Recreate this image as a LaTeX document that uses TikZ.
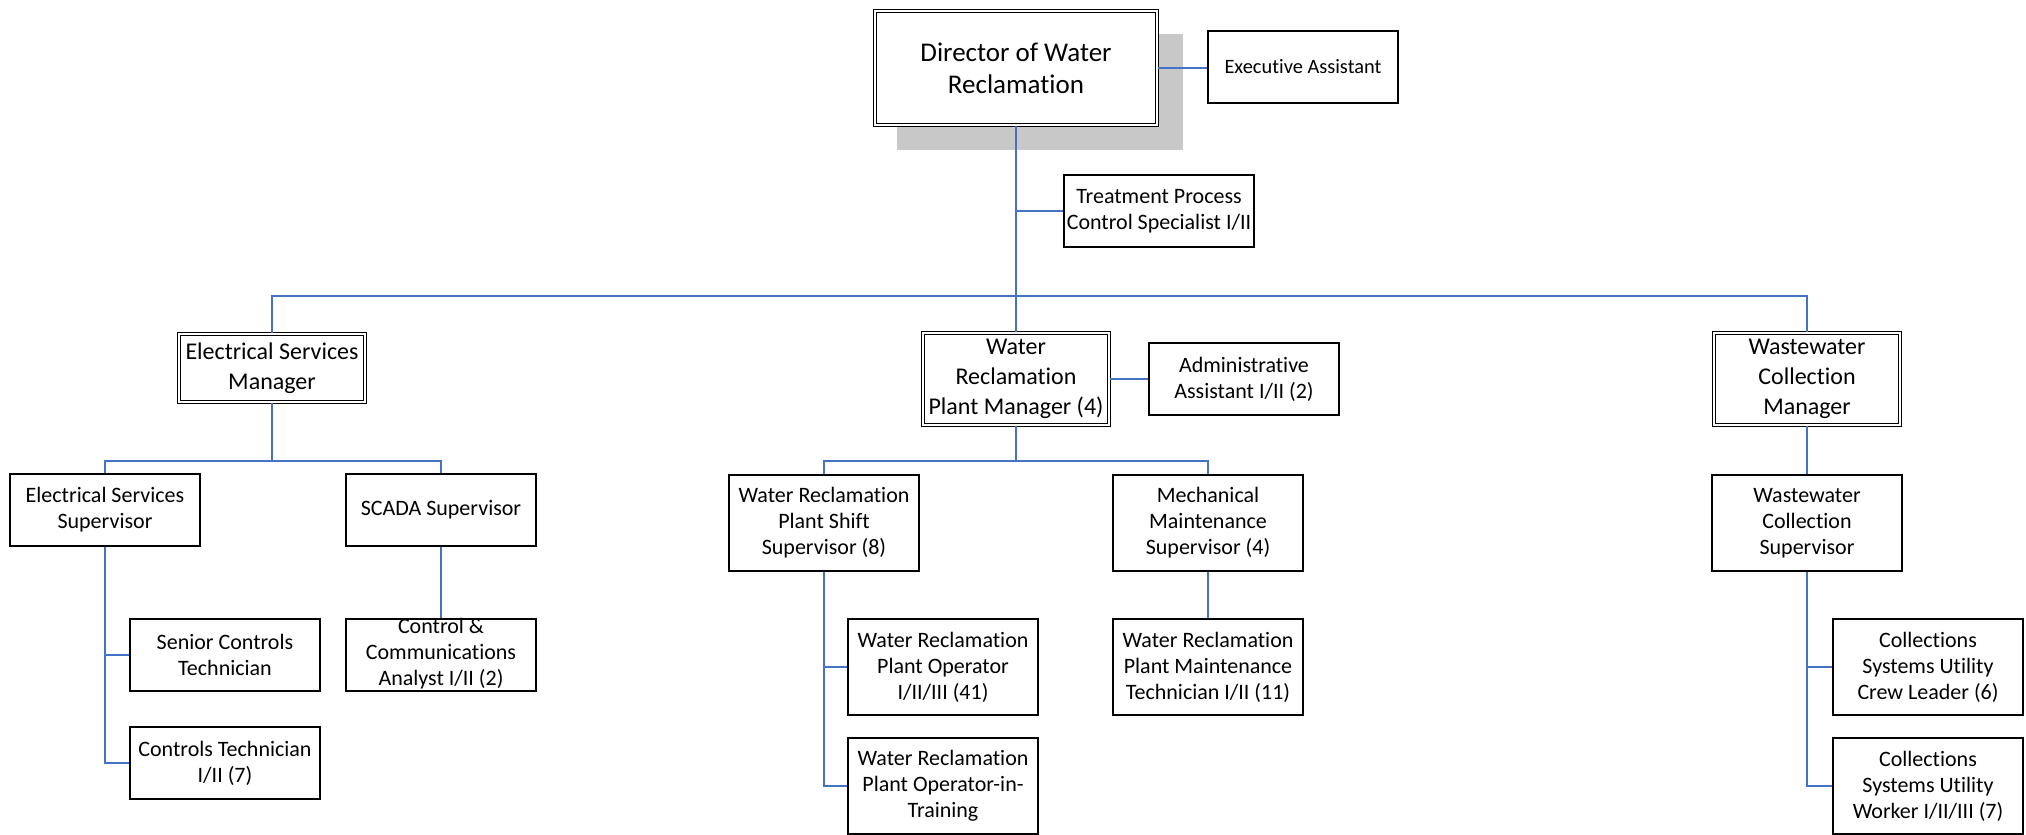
\documentclass[tikz,border=0pt]{standalone}
\usepackage{fontspec}
\setmainfont{Carlito}[Ligatures=NoCommon]
\usetikzlibrary{shadows}
\usetikzlibrary{calc}
\definecolor{linkblue}{RGB}{68,114,196}
\definecolor{shadowgray}{RGB}{200,200,200}
\tikzstyle{position}=[rectangle,draw,fill=white,line width=0.7pt,align=center,minimum width=95pt,minimum height=36pt,inner sep=1pt,font=\fontsize{11}{13}\selectfont]
\tikzstyle{tallposition}=[position,minimum height=48pt]
\tikzstyle{manager}=[position,double,double distance=1.2pt,line width=0.6pt,minimum width=93pt,minimum height=34pt,font=\fontsize{12}{15}\selectfont]
\tikzstyle{tallmanager}=[manager,minimum height=46pt]
\tikzstyle{director}=[manager,minimum width=141pt,minimum height=57pt,font=\fontsize{13.5}{16}\selectfont,
    drop shadow={shadow xshift=12pt,shadow yshift=-11.75pt,shadow scale=1.015,fill=shadowgray,opacity=1}]
\tikzstyle{edge} = [draw,line width=0.8pt,linkblue]

\begin{document}
\begin{tikzpicture}[x=0.5pt,y=-0.5pt]
    \useasboundingbox (0,0) rectangle (2026,835);

    \node[director] (dir) at (1016,68) {Director of Water\\Reclamation};

    \foreach \pos/\name/\txt in {{(272,368)/esm/{Electrical Services\\Manager}}}
        \node[manager] (\name) at \pos {\txt};
    \foreach \pos/\name/\txt in {{(1016,379)/wrp/{Water\\Reclamation\\Plant Manager (4)}},
        {(1807,379)/wcm/{Wastewater\\Collection\\Manager}}}
        \node[tallmanager] (\name) at \pos {\txt};

    \node[position,font=\fontsize{10.2}{13}\selectfont] (exa) at (1303,67) {Executive Assistant};
    \foreach \pos/\name/\txt in {{(1159,211)/tpc/{Treatment Process\\Control Specialist I/II}},
        {(1244,379)/adm/{Administrative\\Assistant I/II (2)}},
        {(105,510)/ess/{Electrical Services\\Supervisor}},
        {(441,510)/scs/{SCADA Supervisor}},
        {(225,655)/sct/{Senior Controls\\Technician}},
        {(225,763)/ctt/{Controls Technician\\I/II (7)}}}
        \node[position] (\name) at \pos {\txt};
    \node[position] (cca) at (441,655) {\raisebox{-4.5pt}{\smash{\begin{tabular}{@{}c@{}}Control \&\\Communications\\Analyst I/II (2)\end{tabular}}}};

    \foreach \pos/\name/\txt in {{(824,523)/shs/{Water Reclamation\\Plant Shift\\Supervisor (8)}},
        {(1208,523)/mms/{Mechanical\\Maintenance\\Supervisor (4)}},
        {(943,667)/wro/{Water Reclamation\\Plant Operator\\I/II/III (41)}},
        {(943,786)/wrt/{Water Reclamation\\Plant Operator-in-\\Training}},
        {(1208,667)/wmt/{Water Reclamation\\Plant Maintenance\\Technician I/II (11)}},
        {(1807,523)/wcs/{Wastewater\\Collection\\Supervisor}},
        {(1928,667)/cul/{Collections\\Systems Utility\\Crew Leader (6)}},
        {(1928,786)/cuw/{Collections\\Systems Utility\\Worker I/II/III (7)}}}
        \node[tallposition] (\name) at \pos {\txt};

    % bus junctions
    \coordinate (topbus) at (1016,296);
    \coordinate (esbus) at (272,461);
    \coordinate (wrbus) at (1016,461);

    % reporting lines
    \path[edge] (dir.south) -- (wrp.north);
    \path[edge] (dir.east) -- (dir.east -| exa.west);
    \path[edge] (tpc.west) -- (tpc.west -| dir.south);
    \path[edge] (wrp.east) -- (adm.west);
    \path[edge] (esm.north) |- (topbus) -| (wcm.north);
    \path[edge] (esm.south) -- (esbus);
    \path[edge] (ess.north) |- (esbus) -| (scs.north);
    \path[edge] (wrp.south) -- (wrbus);
    \path[edge] (shs.north) |- (wrbus) -| (mms.north);
    \foreach \source/ \dest in {scs/cca, mms/wmt, wcm/wcs}
        \path[edge] (\source.south) -- (\dest.north);
    \foreach \source/ \dest in {ess/sct, ess/ctt, shs/wro, shs/wrt, wcs/cul, wcs/cuw}
        \path[edge] (\source.south) |- (\dest.west);

\end{tikzpicture}
\end{document}
